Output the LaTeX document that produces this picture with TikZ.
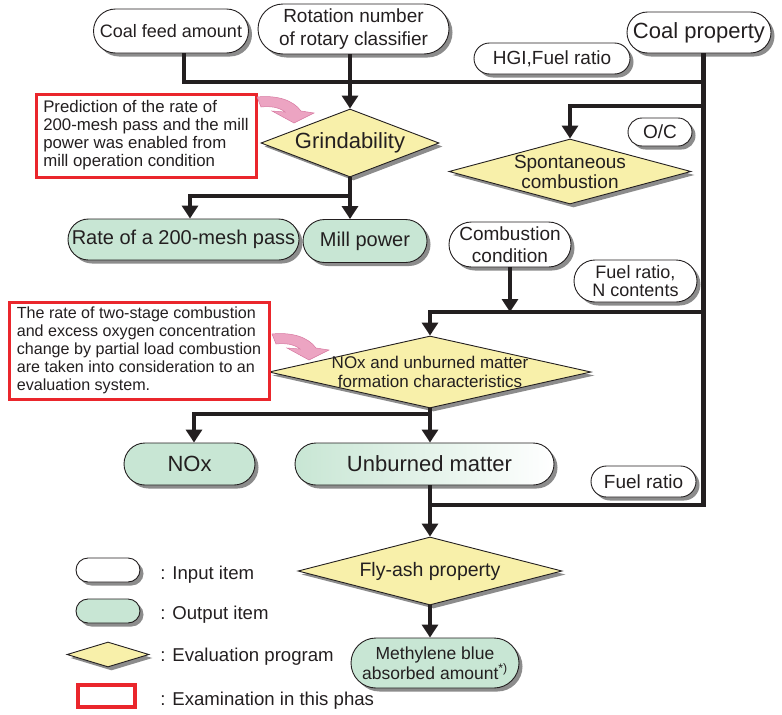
\documentclass[tikz,border=0pt]{standalone}
\usepackage{fontspec}
\setmainfont{Liberation Sans}
\usetikzlibrary{shapes.geometric,shadows,arrows.meta}

\definecolor{outgreen}{RGB}{200,230,212}
\definecolor{evalyellow}{RGB}{248,240,170}
\definecolor{notered}{RGB}{234,38,44}
\definecolor{hintpink}{RGB}{236,164,194}
\definecolor{hintline}{RGB}{214,120,160}
\definecolor{flowgray}{RGB}{35,31,32}

\newcommand\setfs[2]{\fontsize{#1}{#2}\selectfont}
%pink hint arrow, tail at #1
\newcommand\pinkhint[1]{\draw[hintarrow,shift={#1}] (0,0) .. controls (20,-2) and (36,3) .. (44,14) -- (57,16) -- (37,26) -- (15,14) -- (28,15) .. controls (22,10) and (13,9) .. (4,10) -- cycle;}

\tikzset{every picture/.style={line width=0.75pt},
  boxshadow/.style={drop shadow={shadow xshift=3.5pt,shadow yshift=-3.5pt,fill=black!45,opacity=1}},
  inbox/.style={rectangle,draw=flowgray,line width=0.9pt,fill=white,boxshadow,inner sep=0pt,align=center,text=flowgray,font=\setfs{19}{23}},
  outbox/.style={inbox,fill=outgreen},
  pill/.style n args={3}{minimum width=#1pt,minimum height=#2pt,rounded corners=#3pt},
  evalbox/.style={diamond,draw=flowgray,line width=0.9pt,fill=evalyellow,boxshadow,inner sep=0pt},
  evaltext/.style={inner sep=0pt,align=center,text=flowgray},
  notebox/.style={rectangle,draw=notered,line width=3pt,fill=white,align=left,inner sep=0pt,text=flowgray},
  keytext/.style={anchor=west,inner sep=0pt,text=flowgray,font=\setfs{18.6}{22}},
  flow/.style={draw=flowgray,line width=4.5pt},
  flowarrow/.style={flow,-{Triangle[length=13pt,width=16pt]}},
  hintarrow/.style={fill=hintpink,draw=hintline,line width=0.5pt}}

\begin{document}
\begin{tikzpicture}[x=1pt,y=-1pt]
\useasboundingbox (0,0) rectangle (782,715);

%Input items
\node[inbox,pill={155}{44}{22},font=\setfs{18}{21}] (cfa) at (171,31) {Coal feed amount};
\node[inbox,pill={191}{50}{25}] (rot) at (353.5,29) {Rotation number\\of rotary classifier};
\node[inbox,pill={144}{41}{20.5},font=\setfs{22}{26}] (cp) at (699,32.5) {Coal property};
\node[inbox,pill={156}{31}{15.5}] (hgi) at (552,58.5) {HGI,Fuel ratio};
\node[inbox,pill={64}{28}{14}] (oc) at (660,132) {O/C};
\node[inbox,pill={122}{45}{22.5},font=\setfs{19}{22}] (cc) at (510,244.5) {Combustion\\condition};
\node[inbox,pill={123}{42}{21},font=\setfs{18}{18}] (fnc) at (635.5,281) {Fuel ratio,\\N contents};
\node[inbox,pill={105}{31}{15.5}] (fr) at (643.5,481.5) {Fuel ratio};

%Output items
\node[outbox,pill={231}{41}{20.5},font=\setfs{20}{24}] (rate) at (183.5,239.5) {Rate of a 200-mesh pass};
\node[outbox,pill={124}{43}{21.5},font=\setfs{20}{24}] (mp) at (365,241) {Mill power};
\node[outbox,pill={131}{42}{21},font=\setfs{22}{26}] (nox) at (189.5,464) {NOx};
\node[outbox,pill={259}{42}{21},font=\setfs{22}{26},left color=outgreen,middle color=outgreen!45,right color=white] (unb) at (424.5,464) {\hspace*{10pt}Unburned matter};
\node[outbox,pill={168}{50}{25},font=\setfs{17.5}{20}] (mb) at (435,663) {Methylene blue\\absorbed amount\textsuperscript{*)}};

%Evaluation programs
\node[evalbox,minimum width=178pt,minimum height=68pt,label={[evaltext,font=\setfs{22}{26}]center:Grindability}] (gr) at (350,143) {};
\node[evalbox,minimum width=242pt,minimum height=65pt,label={[evaltext,font=\setfs{19}{20}]center:{Spontaneous\\combustion}}] (sc) at (570,171.5) {};
\node[evalbox,minimum width=322pt,minimum height=72pt,label={[evaltext,font=\setfs{17}{19}]center:{NOx and unburned matter\\formation characteristics}}] (nx) at (430,372) {};
\node[evalbox,minimum width=264pt,minimum height=68pt,label={[evaltext,font=\setfs{19.5}{23}]center:Fly-ash property}] (fa) at (430,571) {};

%Examination notes
\node[notebox,minimum width=220pt,minimum height=83pt,font=\setfs{16.8}{18}] (note1) at (146,135.5) {Prediction of the rate of\\200-mesh pass and the mill\\power was enabled from\\mill operation condition};
\node[notebox,minimum width=260pt,minimum height=97pt,font=\setfs{16.1}{18}] (note2) at (139,350.5) {The rate of two-stage combustion\\and excess oxygen concentration\\change by partial load combustion\\are taken into consideration to an\\evaluation system.};
\pinkhint{(257,97)}
\pinkhint{(272,334)}

%Junctions
\coordinate (j1) at (184,82);
\coordinate (t1) at (703.5,82);
\coordinate (t2) at (703.5,106);
\coordinate (t3) at (703.5,312);
\coordinate (t4) at (703.5,505);
\coordinate (j2) at (350,196);
\coordinate (j3) at (190,196);
\coordinate (j4) at (430,414);
\coordinate (j5) at (194,414);

%Flow lines
\draw[flow] (cfa.south -| j1) -- (j1) -- (t1);
\draw[flow] (cp.south -| t1) -- (t4) -- (t4 -| fa.north);
\draw[flowarrow] (rot.south -| gr.north) -- (gr.north);
\draw[flowarrow] (t2) -| (sc.north);
\draw[flow] (gr.south) -- (j2);
\draw[flowarrow] (j2) -- (j2 |- mp.north);
\draw[flowarrow] (j2) -| (j3 |- rate.north);
\draw[flowarrow] (cc.south) -- (cc.south |- t3);
\draw[flowarrow] (t3) -| (nx.north);
\draw[flowarrow] (nx.south) -- (nx.south |- unb.north);
\draw[flowarrow] (j4) -| (j5 |- nox.north);
\draw[flowarrow] (unb.south -| fa.north) -- (fa.north);
\draw[flowarrow] (fa.south) -- (fa.south |- mb.north);

%Legend
\node[inbox,pill={64}{24}{12}] (keyin) at (108,570) {};
\node[outbox,pill={64}{24}{12}] (keyout) at (108,611) {};
\node[evalbox,minimum width=82pt,minimum height=25pt] (keyeval) at (108,654.5) {};
\node[notebox,line width=4pt,minimum width=57pt,minimum height=22pt] (keynote) at (106.5,696) {};
\node[keytext] (keyintext) at (160,575) {: Input item};
\node[keytext] (keyouttext) at (160,615) {: Output item};
\node[keytext] (keyevaltext) at (160,657) {: Evaluation program};
\node[keytext] (keynotetext) at (160,701) {: Examination in this phas};

\end{tikzpicture}
\end{document}
